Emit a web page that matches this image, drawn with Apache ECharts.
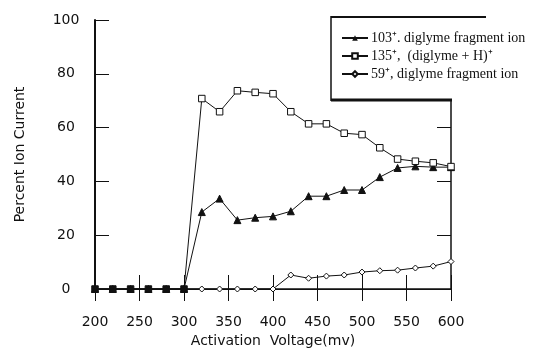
<!DOCTYPE html>
<html>
<head>
<meta charset="utf-8">
<script src="https://cdn.jsdelivr.net/npm/echarts@6/dist/echarts.min.js"></script>
<style>
  html, body { margin: 0; background: #fff; }
  #chart { width: 537px; height: 354px; }
</style>
</head>
<body>
<div id="chart"></div>
<script>
// activation voltage (mV)
const voltages = [200, 220, 240, 260, 280, 300, 320, 340, 360, 380, 400, 420, 440, 460, 480, 500, 520, 540, 560, 580, 600];
// percent ion current per ion
const ion103 = [0, 0, 0, 0, 0, 0, 28.6, 33.6, 25.6, 26.5, 27, 28.9, 34.5, 34.5, 36.8, 36.8, 41.6, 45, 45.6, 45.3, 45.3];
const ion135 = [0, 0, 0, 0, 0, 0, 70.8, 65.9, 73.7, 73.1, 72.6, 65.9, 61.4, 61.4, 57.9, 57.4, 52.5, 48.3, 47.5, 46.9, 45.5];
const ion59 = [0, 0, 0, 0, 0, 0, 0, 0, 0, 0, 0, 5.2, 4, 4.8, 5.2, 6.3, 6.8, 7.0, 7.8, 8.5, 10.2];
const seriesNames = ["103\u207A. diglyme fragment ion", "135\u207A,  (diglyme + H)\u207A", "59\u207A, diglyme fragment ion"];

const axisFont = { fontFamily: "DejaVu Sans", fontSize: 14, color: "#111" };
const black = "#111";

const chart = echarts.init(document.getElementById("chart"));

const pairs = (ys) => voltages.map((v, i) => [v, ys[i]]);

chart.setOption({
  animation: false,
  grid: { left: 95, right: 86, top: 20, bottom: 65 },
  xAxis: [
    {
      type: "value", min: 200, max: 600, interval: 50, position: "bottom",
      name: "Activation  Voltage(mv)", nameLocation: "middle", nameGap: 44,
      nameTextStyle: axisFont,
      axisLine: { lineStyle: { color: black, width: 1.5 } },
      axisTick: { inside: true, length: 14, lineStyle: { color: black } },
      axisLabel: Object.assign({ margin: 26 }, axisFont),
      splitLine: { show: false },
    },
    {
      // top frame line with short inward ticks
      type: "value", min: 200, max: 600, interval: 50, position: "top",
      axisLine: { lineStyle: { color: black, width: 1.2 } },
      axisTick: { inside: true, length: 12, lineStyle: { color: black } },
      axisLabel: { show: false },
      splitLine: { show: false },
    },
    {
      // tick stubs below the bottom axis
      type: "value", min: 200, max: 600, interval: 50, position: "bottom",
      axisLine: { show: false },
      axisTick: { length: 6, lineStyle: { color: black } },
      axisLabel: { show: false },
      splitLine: { show: false },
    },
  ],
  yAxis: [
    {
      type: "value", min: 0, max: 100, interval: 20, position: "left",
      name: "Percent Ion Current", nameLocation: "middle", nameGap: 68,
      nameTextStyle: axisFont,
      axisLine: { show: true, lineStyle: { color: black, width: 2 } },
      axisTick: { show: true, inside: true, length: 14, lineStyle: { color: black } },
      axisLabel: Object.assign({ margin: 29, align: "center" }, axisFont),
      splitLine: { show: false },
    },
    {
      type: "value", min: 0, max: 100, interval: 20, position: "right",
      axisLine: { show: true, lineStyle: { color: black, width: 1.5 } },
      axisTick: { show: true, inside: true, length: 14, lineStyle: { color: black } },
      axisLabel: { show: false },
      splitLine: { show: false },
    },
  ],
  legend: {
    left: 336, top: 26, orient: "vertical", itemGap: 4,
    itemWidth: 26, itemHeight: 7, z: 10,
    textStyle: { fontFamily: "Liberation Serif", fontSize: 14, color: "#111", padding: [0, 0, 0, -2] },
    data: seriesNames,
  },
  graphic: [
    // legend box covering the upper right of the frame
    { type: "rect", z: 5, shape: { x: 331, y: 0, width: 206, height: 100 }, style: { fill: "#fff" } },
    { type: "line", z: 6, shape: { x1: 331, y1: 17, x2: 486, y2: 17 }, style: { stroke: black, lineWidth: 2 } },
    { type: "line", z: 6, shape: { x1: 331, y1: 16, x2: 331, y2: 101 }, style: { stroke: black, lineWidth: 1.5 } },
    { type: "line", z: 6, shape: { x1: 331, y1: 100, x2: 452, y2: 100 }, style: { stroke: black, lineWidth: 3 } },
  ],
  series: [
    {
      name: seriesNames[0], type: "line", data: pairs(ion103),
      symbol: "triangle", symbolSize: 7,
      lineStyle: { color: black, width: 1 },
      itemStyle: { color: black, borderColor: black },
    },
    {
      name: seriesNames[2], type: "line", data: pairs(ion59),
      symbol: "diamond", symbolSize: 6,
      lineStyle: { color: black, width: 1 },
      itemStyle: { color: "#fff", borderColor: black, borderWidth: 1 },
    },
    {
      name: seriesNames[1], type: "line",
      data: voltages.map((v, i) => v <= 300
        ? { value: [v, ion135[i]], itemStyle: { color: black } }
        : [v, ion135[i]]),
      symbol: "rect", symbolSize: 6.5,
      lineStyle: { color: black, width: 1 },
      itemStyle: { color: "#fff", borderColor: black, borderWidth: 1 },
    },
  ],
});
</script>
</body>
</html>
